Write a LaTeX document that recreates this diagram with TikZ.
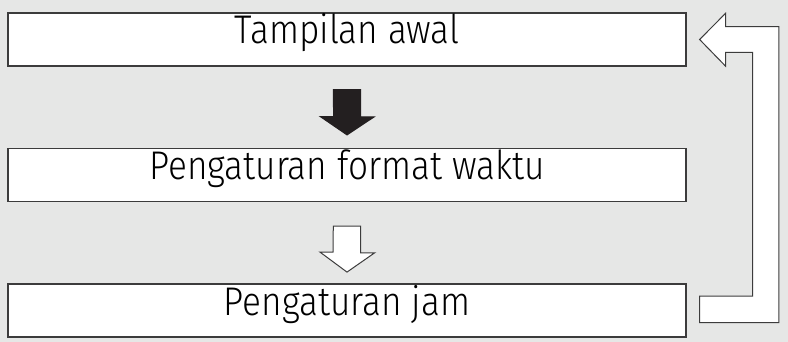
\documentclass[tikz,border=0pt]{standalone}
\usepackage{fontspec}
\newfontfamily\boxfont{Fira Sans}[UprightFont=* Light, FakeStretch=0.88]
\usetikzlibrary{calc}
\definecolor{bggray}{HTML}{E6E7E6}
\definecolor{edge}{HTML}{3C3C3C}
\definecolor{ink}{HTML}{231F20}

\begin{document}
\begin{tikzpicture}[x=1pt, y=-1pt,
    step box/.style={draw=edge, line width=1.2pt, fill=white, minimum width=678pt,
      inner sep=0pt, text height=31pt, text depth=22pt,
      font=\boxfont\fontsize{40}{44}\selectfont},
    blk/.style={draw=edge, line width=1pt, line join=miter},]
    \fill[bggray] (0,0) rectangle (788,342);
    \useasboundingbox (0,0) rectangle (788,342);
    \node [step box] (awal) at (347,39.5) {Tampilan awal};
    \node [step box] (format) at (347,175) {Pengaturan format waktu};
    \node [step box] (jam) at (347,310.5) {Pengaturan jam};
    % filled arrow
    \draw [blk, fill=ink, draw=ink] ($(awal.south)+(-13.7,23)$) -- ++(27.4,0) -- ++(0,27.4)
      -- ++(13.3,0) -- ($(format.north)+(0,-13)$) -- ++(-26.7,-18.3) -- ++(13.3,0) -- cycle;
    % open arrow
    \draw [blk, fill=white] ($(format.south)+(-13.7,24)$) -- ++(27.4,0) -- ++(0,26.7)
      -- ++(14,0) -- ($(jam.north)+(0,-11.3)$) -- ++(-27,-20) -- ++(13,0) -- cycle;
    % back to start
    \draw [blk, fill=white] ($(jam.east)+(13,-14.5)$) -- ++(53,0) |- ($(awal.east)+(39,13)$)
      -- ++(0,13.7) -- ($(awal.east)+(13,0)$) -- ($(awal.east)+(39,-26.2)$) -- ++(0,13.4)
      -- ++(53.3,0) |- ($(jam.east)+(13,12.2)$) -- cycle;
\end{tikzpicture}
\end{document}
